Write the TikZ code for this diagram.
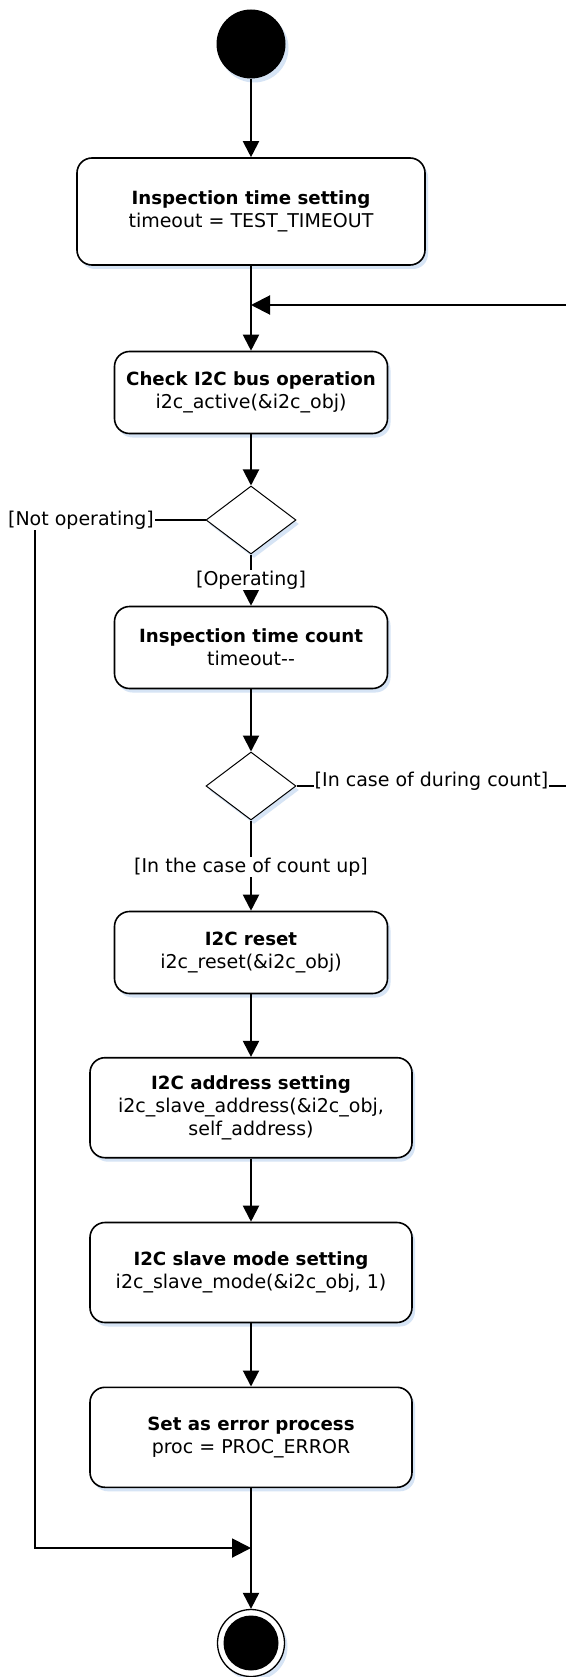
\documentclass[tikz,border=0pt]{standalone}
\usepackage{fontspec}
\setmainfont{DejaVu Sans}
\usetikzlibrary{arrows.meta,shapes.geometric,shadows}
\definecolor{shadowblue}{RGB}{214,228,245}
\newcommand{\ttl}[1]{{\fontsize{18.2}{23}\selectfont\bfseries #1}}
\begin{document}
\begin{tikzpicture}[x=1pt,y=-1pt,
  font=\fontsize{19}{23}\selectfont,
  shad/.style={drop shadow={shadow xshift=3pt,shadow yshift=-4pt,fill=shadowblue,opacity=1}},
  act/.style={draw=black,line width=1.6pt,rounded corners=15pt,fill=white,align=center,inner sep=0pt,shad},
  dec/.style={diamond,draw=black,line width=1pt,fill=white,inner sep=0pt,minimum width=90pt,minimum height=68pt,shad},
  flow/.style={line width=2pt,-{Triangle[length=16pt,width=16pt]}},
  hflow/.style={line width=2pt,-{Triangle[length=19pt,width=19pt]}},
  guard/.style={fill=white,inner sep=1pt},
]
\useasboundingbox (0,0) rectangle (565,1677);
\fill[white] (0,0) rectangle (565,1677);

\node[circle,fill=black,minimum size=69pt,inner sep=0pt,shad] (start) at (251,44) {};
\node[act,minimum width=348pt,minimum height=107pt] (b1) at (251,211.5)
  {\ttl{Inspection time setting}\\timeout = TEST\_TIMEOUT};
\node[act,minimum width=273pt,minimum height=82pt] (b2) at (251,392.5)
  {\ttl{Check I2C bus operation}\\i2c\_active(\&i2c\_obj)};
\node[dec] (d1) at (251,520) {};
\node[act,minimum width=273pt,minimum height=82pt] (b3) at (251,647.5)
  {\ttl{Inspection time count}\\timeout-{}-};
\node[dec] (d2) at (251,786) {};
\node[act,minimum width=273pt,minimum height=82pt] (b4) at (251,952.5)
  {\ttl{I2C reset}\\i2c\_reset(\&i2c\_obj)};
\node[act,minimum width=322pt,minimum height=100pt] (b5) at (251,1107.7)
  {\ttl{I2C address setting}\\i2c\_slave\_address(\&i2c\_obj,\\self\_address)};
\node[act,minimum width=322pt,minimum height=100pt] (b6) at (251,1272.5)
  {\ttl{I2C slave mode setting}\\i2c\_slave\_mode(\&i2c\_obj, 1)};
\node[act,minimum width=322pt,minimum height=100pt] (b7) at (251,1437.3)
  {\ttl{Set as error process}\\proc = PROC\_ERROR};
\node[circle,draw=black,line width=1.3pt,fill=white,minimum size=67pt,inner sep=0pt,shad] (end) at (251,1643) {};
\node[circle,fill=black,minimum size=55pt,inner sep=0pt] (endin) at (end) {};

\coordinate (m1) at (251,305);
\coordinate (m2) at (251,1548);
\coordinate (lc1) at (35,520);
\coordinate (lc2) at (35,1548);
\coordinate (rc1) at (575,786);
\coordinate (rc2) at (575,305);

\draw[flow] (start) -- (b1);
\draw[flow] (b1) -- (b2);
\draw[flow] (b2) -- (d1);
\draw[flow] (d1) -- (b3);
\draw[flow] (b3) -- (d2);
\draw[flow] (d2) -- (b4);
\draw[flow] (b4) -- (b5);
\draw[flow] (b5) -- (b6);
\draw[flow] (b6) -- (b7);
\draw[flow] (b7) -- (end);
\draw[hflow] (d1.west) -- (lc1) -- (lc2) -- (m2);
\draw[hflow] (d2.east) -- (rc1) -- (rc2) -- (m1);

\node[guard] (lno) at (81,520) {[Not operating]};
\node[guard] (lop) at (251,580) {[Operating]};
\node[guard] (ldc) at (431.5,781) {[In case of during count]};
\node[guard] (lcu) at (251,867) {[In the case of count up]};
\end{tikzpicture}
\end{document}
